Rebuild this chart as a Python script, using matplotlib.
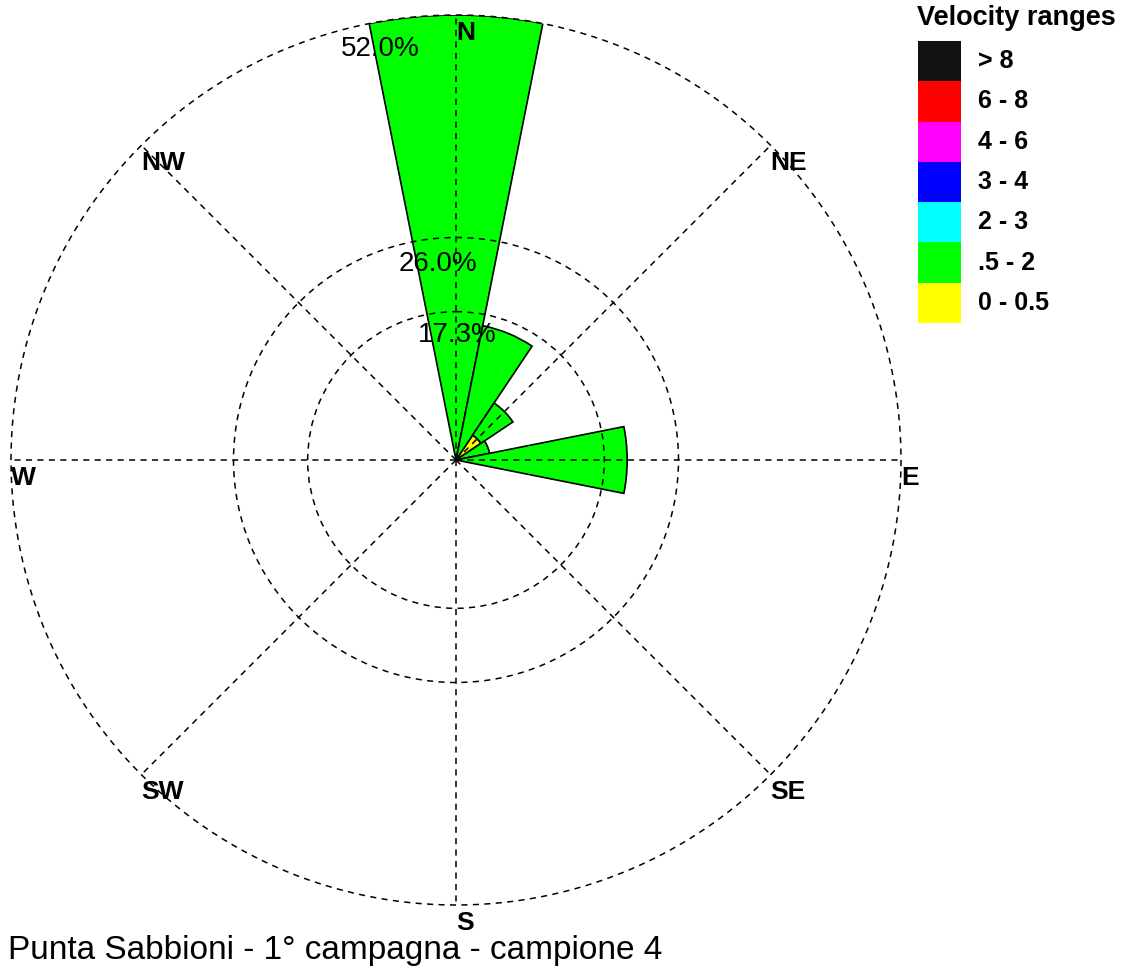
import numpy as np
import matplotlib
matplotlib.use("Agg")
import matplotlib.pyplot as plt
from matplotlib.patches import Rectangle
from matplotlib.transforms import ScaledTranslation

# Wind-rose frequencies (%) by direction sector and velocity class
directions = ["N", "NNE", "NE", "ENE", "E", "ESE", "SE", "SSE",
              "S", "SSW", "SW", "WSW", "W", "WNW", "NW", "NNW"]
speed_ranges = ["0 - 0.5", ".5 - 2", "2 - 3", "3 - 4", "4 - 6", "6 - 8", "> 8"]
range_colors = ["#ffff00", "#00ff00", "#00ffff", "#0000ff", "#ff00ff", "#ff0000", "#111111"]

freq_0_05 = [0.0, 0.0, 3.5, 0.0, 0.0, 0.0, 0.0, 0.0, 0.0, 0.0, 0.0, 0.0, 0.0, 0.0, 0.0, 0.0]
freq_05_2 = [52.0, 16.0, 4.5, 4.0, 20.0, 0.0, 0.0, 0.0, 0.0, 0.0, 0.0, 0.0, 0.0, 0.0, 0.0, 0.0]
freq_2_3 = [0.0] * 16
freq_3_4 = [0.0] * 16
freq_4_6 = [0.0] * 16
freq_6_8 = [0.0] * 16
freq_8_up = [0.0] * 16
series = [freq_0_05, freq_05_2, freq_2_3, freq_3_4, freq_4_6, freq_6_8, freq_8_up]

ring_values = [52.0 / 3, 26.0, 52.0]
ring_labels = ["17.3%", "26.0%", "52.0%"]
compass_labels = ["N", "NE", "E", "SE", "S", "SW", "W", "NW"]
title = "Punta Sabbioni - 1° campagna - campione 4"

W, H = 1121, 971
fig = plt.figure(figsize=(W / 100, H / 100), dpi=100)
fig.patch.set_facecolor("white")


def fx(px):
    return px / W


def fy(py):
    return 1 - py / H


cx, cy, R = 456, 460, 445
ax = fig.add_axes([fx(cx - R), fy(cy + R), 2 * R / W, 2 * R / H], projection="polar")
ax.set_theta_zero_location("N")
ax.set_theta_direction(-1)
rmax = max(ring_values)
ax.set_ylim(0, rmax)
ax.spines["polar"].set_visible(False)
ax.set_facecolor("none")

dash = (0, (4, 3.5))
ax.set_xticks(np.deg2rad(np.arange(0, 360, 45)))
ax.set_xticklabels([])
ax.set_yticks(ring_values[:-1])
ax.set_yticklabels([])
ax.grid(True, color="black", linestyle=dash, linewidth=1.1)
ax.set_axisbelow(False)
ax.tick_params(length=0)

# stacked sectors
theta = np.deg2rad(np.arange(16) * 22.5)
width = np.deg2rad(22.5)
bottom = np.zeros(16)
for vals, col in zip(series, range_colors):
    vals = np.array(vals)
    mask = vals > 0
    if mask.any():
        ax.bar(theta[mask], vals[mask], width=width, bottom=bottom[mask],
               color=col, edgecolor="black", linewidth=1.2, align="center", zorder=1)
    bottom += vals

# outer ring
tt = np.linspace(0, 2 * np.pi, 721)
ax.plot(tt, np.full_like(tt, rmax), color="black", linestyle=dash, linewidth=1.1,
        zorder=3, clip_on=False)

down = ax.transData + ScaledTranslation(0, -4 / 72, fig.dpi_scale_trans)

# compass labels (anchored top-left at the outer ring)
for i, lab in enumerate(compass_labels):
    ax.text(np.deg2rad(i * 45), rmax, lab, ha="left", va="top", transform=down,
            fontsize=19, fontweight="bold", family="Liberation Sans", zorder=5)

# ring percentage labels
for rv, rl in zip(ring_values, ring_labels):
    ax.text(np.deg2rad(-15), rv, rl, ha="left", va="top", transform=down,
            fontsize=20, family="Liberation Sans", zorder=5)

# legend
fig.text(fx(917), fy(5), "Velocity ranges", ha="left", va="top",
         fontsize=19.5, fontweight="bold", family="Liberation Sans")
box_top, box_h = 41, 40.3
for k, (lab, col) in enumerate(zip(speed_ranges[::-1], range_colors[::-1])):
    y0 = box_top + k * box_h
    fig.add_artist(Rectangle((fx(918), fy(y0 + box_h)), 43 / W, box_h / H,
                             facecolor=col, edgecolor="none", transform=fig.transFigure))
    fig.text(fx(978), fy(y0 + box_h / 2), lab, ha="left", va="center",
             fontsize=18, fontweight="bold", family="Liberation Sans")

fig.text(fx(8), fy(959), title, ha="left", va="baseline",
         fontsize=24, family="Liberation Sans")

fig.savefig("out.png", dpi=100, facecolor="white")
